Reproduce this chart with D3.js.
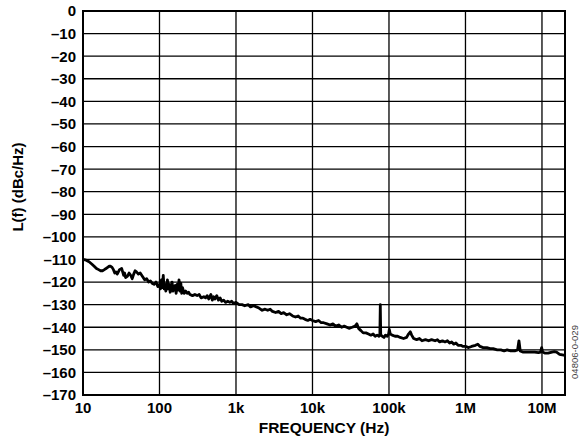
<!DOCTYPE html>
<html><head><meta charset="utf-8">
<script src="https://cdn.jsdelivr.net/npm/d3@7"></script>
<style>body{margin:0;background:#fff;}svg{display:block;}</style>
</head><body>
<svg id="c" width="579" height="442"></svg>
<script>
const yTicks = [0,-10,-20,-30,-40,-50,-60,-70,-80,-90,-100,-110,-120,-130,-140,-150,-160,-170];
const xTicks = [10,100,1e3,1e4,1e5,1e6,1e7];
const xTickLabels = ["10","100","1k","10k","100k","1M","10M"];
const freq = [10,11,12,13,14,15,16,17,18,19,20,21,22,23,24,25,26,27,28,29,30,32,33,34,35,36,38,40,42,44,46,48,50,53,56,60,64,68,72,76,80,85,90,95,100,103,106,109,112,115,118,121,124,127,130,134,138,142,146,150,155,160,165,170,175,180,185,190,195,200,210,220,230,240,250,270,290,310,330,350,380,400,420,440,470,490,510,530,560,590,620,650,690,730,780,830,880,930,1000,1100,1200,1300,1450,1550,1700,1850,2000,2200,2400,2600,2800,3000,3300,3600,3900,4200,4600,5000,5500,6000,6500,7000,7500,8000,8700,9300,10000,11000,12000,13000,14000,15500,17000,18500,20000,22000,24000,26000,28000,30000,33000,36000,38000,40000,43000,46000,50000,54000,58000,62000,66000,70000,74000,76000,77000,78000,82000,86000,90000,95000,99000,101000,104000,110000,120000,130000,140000,155000,170000,180000,190000,198000,210000,230000,250000,270000,300000,330000,360000,400000,430000,460000,500000,540000,580000,620000,660000,700000,750000,800000,870000,930000,1000000,1100000,1200000,1350000,1450000,1550000,1700000,1900000,2100000,2300000,2600000,2900000,3200000,3500000,3900000,4400000,4800000,5000000,5200000,5600000,6200000,7000000,8000000,9000000,9600000,9900000,10200000,11000000,12000000,13500000,14500000,15500000,17000000,20000000];
const noise = [-110,-110.3,-111,-112,-113,-114,-114.5,-115,-115,-114.5,-114,-113.5,-113,-113,-113.5,-114.5,-116,-115.5,-116.5,-115.5,-114.5,-114,-115.5,-117,-116,-118,-117.5,-116,-117,-118.5,-116.5,-115,-115.5,-116.5,-116,-117.5,-119,-118.5,-120,-119.5,-120.5,-121,-120,-122,-121,-123,-119,-122.5,-117,-123,-121,-124,-122,-119,-123,-121,-124.5,-122,-120,-124,-122,-121.5,-125,-121,-123.5,-119,-124,-120.5,-125,-122.5,-125,-124,-125,-124.5,-125.5,-126,-125.5,-126,-125.5,-127,-126.5,-127,-126,-127.5,-125.5,-128,-126.5,-127.5,-126,-128,-127,-128.5,-128,-129,-128.5,-129,-128.5,-129.5,-129,-130,-130,-130.5,-130,-131,-130.5,-131,-131.5,-132.5,-132,-132.5,-132,-133,-133.5,-133,-134,-133.5,-134.5,-134,-135,-135.5,-135,-136,-136,-136.5,-137,-136.5,-137,-137.5,-137,-138,-138,-138.5,-139,-138.5,-139.5,-139,-140,-139.5,-140,-140.5,-140,-139.5,-138.5,-140.5,-141.5,-142.5,-142.5,-143,-143.5,-143,-144,-143.5,-144,-143,-130,-143.5,-144,-144.5,-143.5,-144,-143,-141,-143,-143.5,-144,-144,-144.5,-145,-144.5,-143,-142,-143.5,-145,-145.5,-145,-146,-145.5,-146,-145.5,-146,-145.5,-146.5,-146,-146.5,-146,-147,-146.5,-147.5,-147,-148,-148,-148.5,-148.5,-149,-148.5,-148,-147.5,-148.5,-149,-149,-149.5,-149.5,-150,-150,-150.5,-150,-150.5,-150.5,-150,-146,-150.5,-151,-151,-151,-151,-151.2,-151,-149,-151,-151.5,-151.5,-151,-150.8,-151,-152,-152.5];

const svg = d3.select("#c");
const L = 83, R = 565, T = 11, B = 395;
const x = d3.scaleLog().domain([10, 2e7]).range([L, R]);
const y = d3.scaleLinear().domain([0, -170]).range([T, B]);
const font = "'Liberation Sans', Arial, Helvetica, sans-serif";

// grid
const g = svg.append("g");
g.selectAll("line.h").data(yTicks).join("line")
  .attr("x1", L).attr("x2", R).attr("y1", d => y(d)).attr("y2", d => y(d))
  .attr("stroke", "#000").attr("stroke-width", 1.3);
g.selectAll("line.v").data(xTicks).join("line")
  .attr("y1", T).attr("y2", B).attr("x1", d => x(d)).attr("x2", d => x(d))
  .attr("stroke", "#000").attr("stroke-width", 1.3);

// curve
const data = freq.map((f, i) => [f, noise[i]]);
svg.append("path").datum(data)
  .attr("d", d3.line().x(d => x(d[0])).y(d => y(d[1])))
  .attr("fill", "none").attr("stroke", "#000").attr("stroke-width", 2.8)
  .attr("stroke-linejoin", "round");

// frame
svg.append("rect").attr("x", L).attr("y", T).attr("width", R - L).attr("height", B - T)
  .attr("fill", "none").attr("stroke", "#000").attr("stroke-width", 2);

// y labels
svg.append("g").selectAll("text").data(yTicks).join("text")
  .attr("x", 76).attr("y", d => y(d)).attr("dy", "0.36em")
  .attr("text-anchor", "end").attr("font-family", font).attr("font-weight", "bold")
  .attr("font-size", 15).text(d => d === 0 ? "0" : "\u2013" + Math.abs(d));

// x labels
svg.append("g").selectAll("text").data(xTicks).join("text")
  .attr("x", d => x(d)).attr("y", 413)
  .attr("text-anchor", "middle").attr("font-family", font).attr("font-weight", "bold")
  .attr("font-size", 15).text((d, i) => xTickLabels[i]);

svg.append("text").attr("x", 324).attr("y", 433).attr("text-anchor", "middle")
  .attr("font-family", font).attr("font-weight", "bold").attr("font-size", 15.5)
  .text("FREQUENCY (Hz)");

svg.append("text").attr("transform", "translate(23,187) rotate(-90)").attr("text-anchor", "middle")
  .attr("font-family", font).attr("font-weight", "bold").attr("font-size", 15)
  .text("L(f) (dBc/Hz)");

svg.append("text").attr("transform", "translate(578,352) rotate(-90)").attr("text-anchor", "middle")
  .attr("font-family", font).attr("font-size", 9.5).attr("fill", "#444")
  .text("04806-0-029");
</script>
</body></html>
